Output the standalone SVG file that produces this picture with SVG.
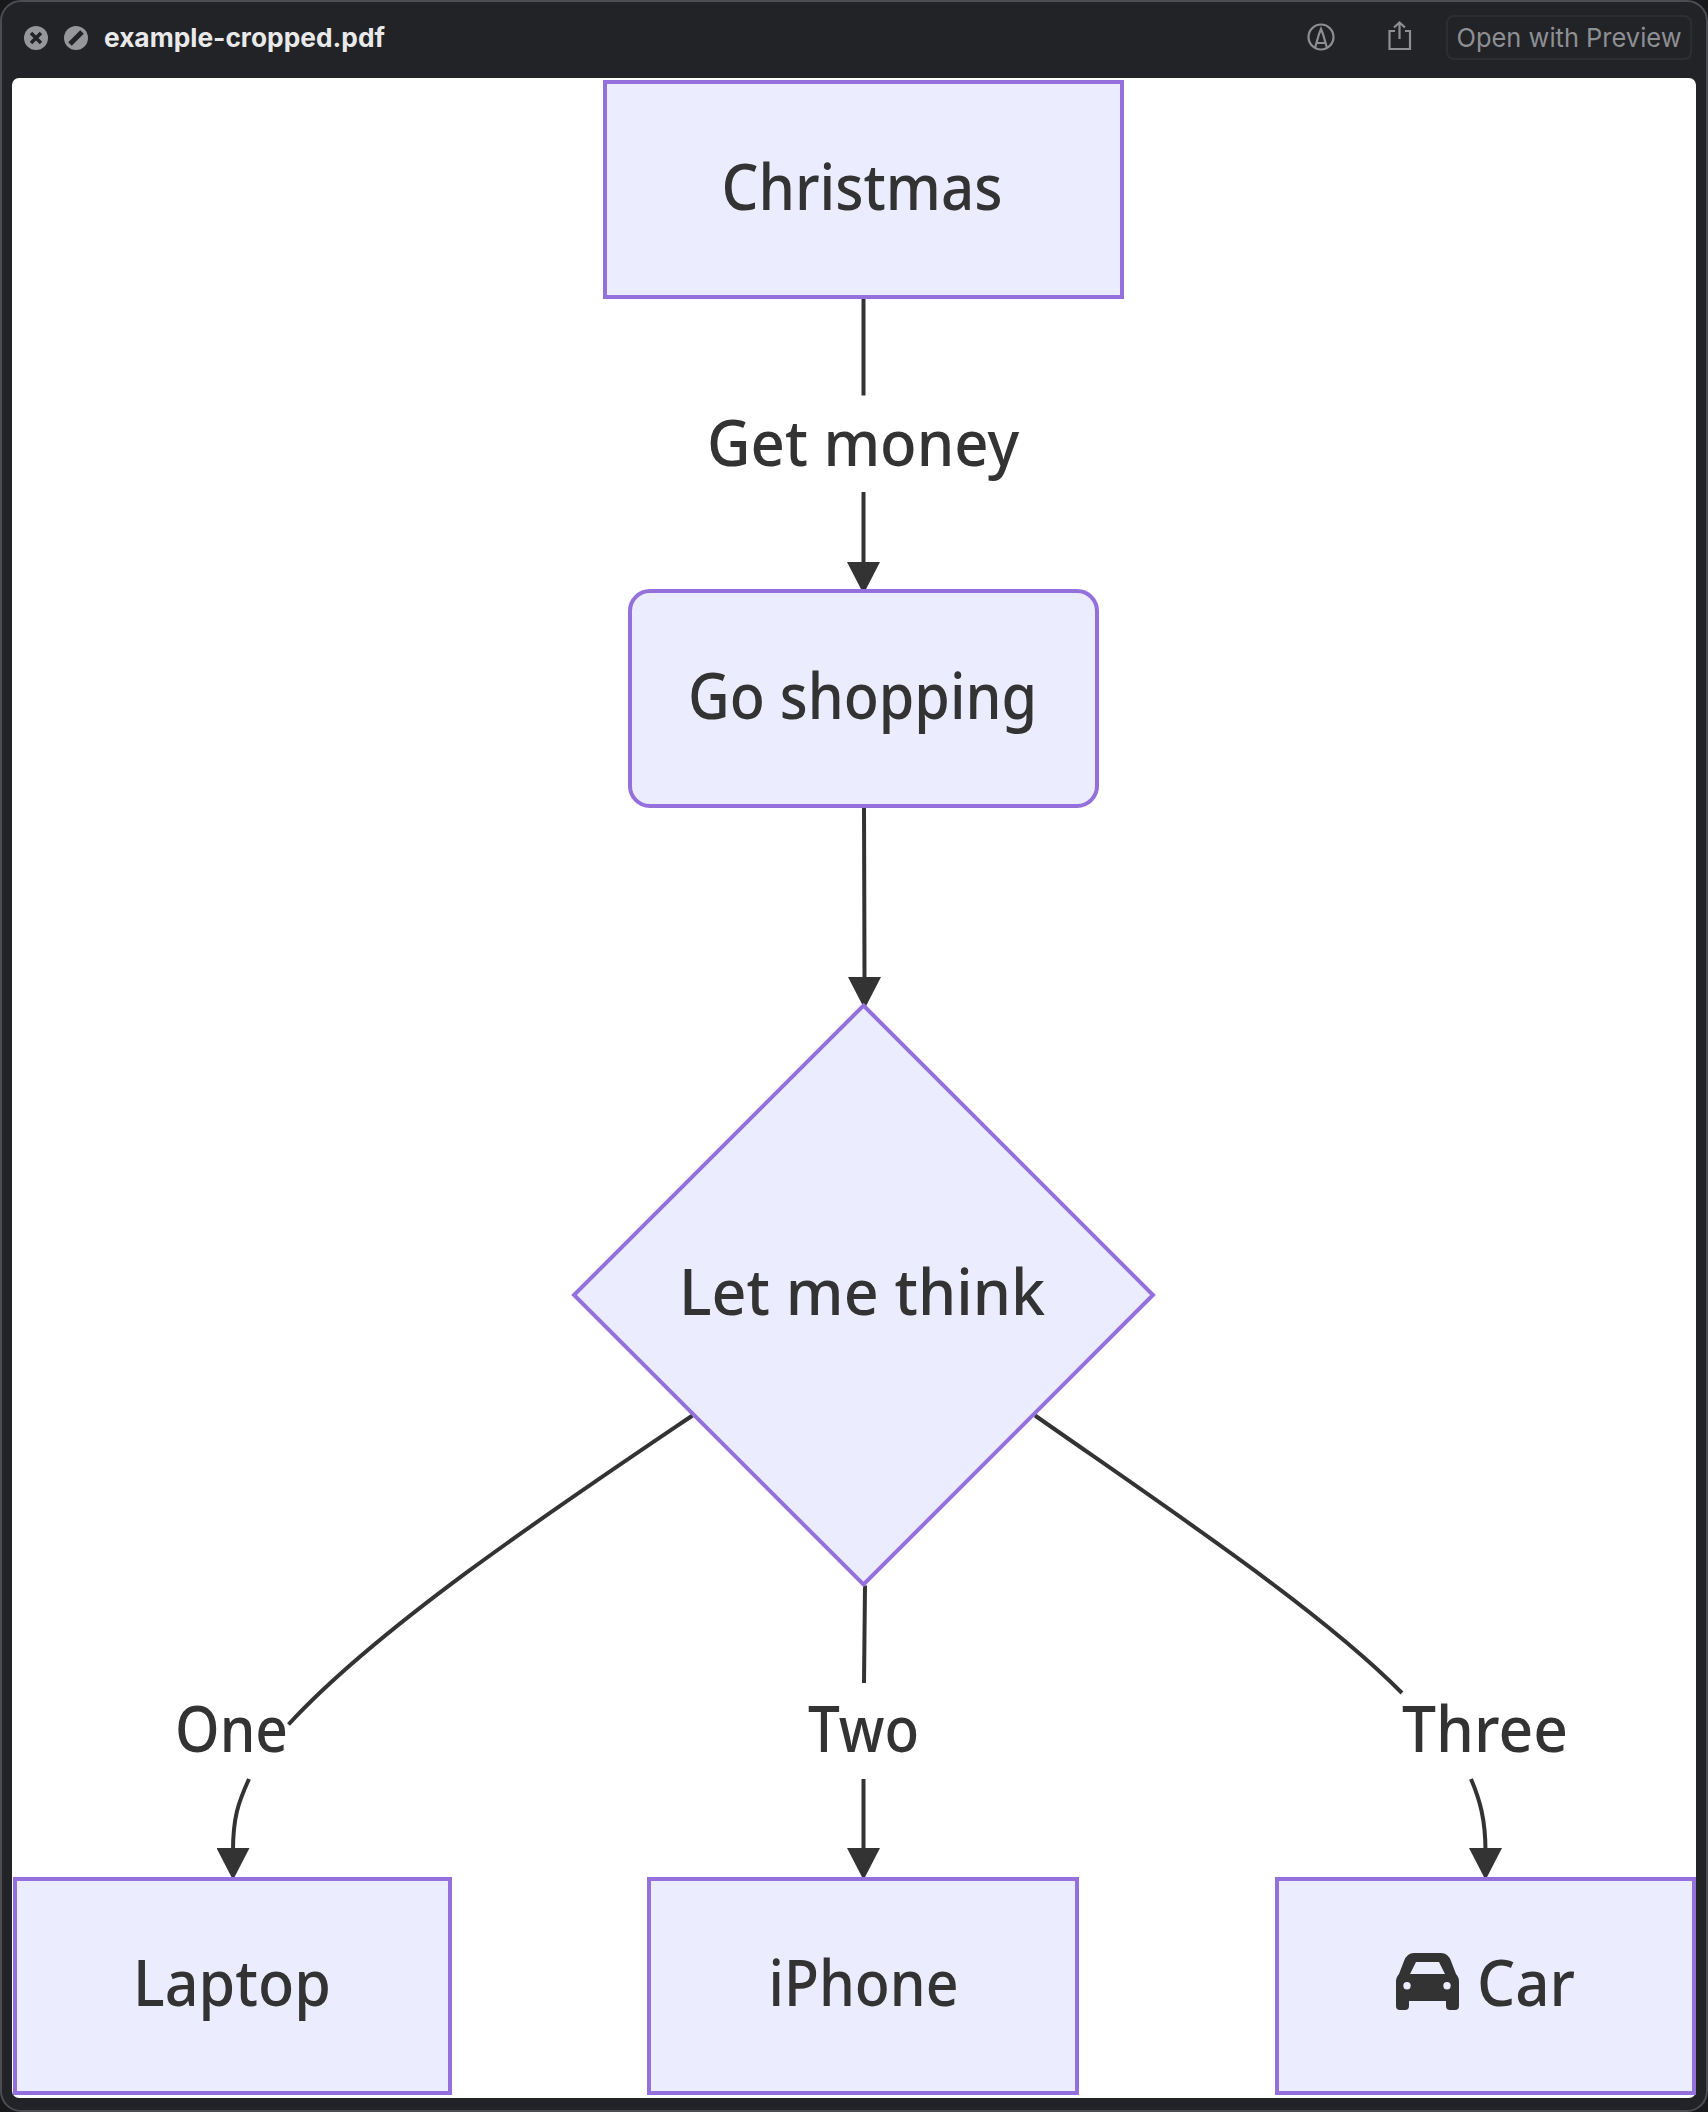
<svg xmlns="http://www.w3.org/2000/svg" width="1708" height="2112" viewBox="0 0 1708 2112">
<style>
.node{fill:#ECECFF;stroke:#9370DB;stroke-width:4}
.lbl{font-family:"Noto Sans","Open Sans",sans-serif;font-size:64px;font-weight:500;fill:#333333}
.edge{fill:none;stroke:#333333;stroke-width:4}
.ui{font-family:Inter,"Liberation Sans",sans-serif;font-size:26px}
.ic{fill:none;stroke:#8e8f93;stroke-width:2.2}
</style>
<defs>
<marker id="arrow" markerUnits="userSpaceOnUse" markerWidth="32" markerHeight="33" viewBox="0 0 32 33" refX="3" refY="16.500" orient="auto"><path d="M0 0L32 16.500L0 33Z" fill="#333333"/></marker>
</defs>
<rect width="1708" height="2112" fill="#18191b"/>
<g id="window">
<rect x="1" y="1" width="1706" height="2110" rx="20" fill="#212327" stroke="#4b4d52" stroke-width="2"/>
<rect x="12" y="78" width="1684" height="2020" rx="7" fill="#ffffff"/>
</g>
<g id="titlebar">
<circle cx="36" cy="38" r="12" fill="#96979b"/>
<path d="M31 33L41 43M41 33L31 43" stroke="#212327" stroke-width="3.5"/>
<circle cx="76" cy="38" r="12" fill="#96979b"/>
<path d="M70 44L82 32" stroke="#212327" stroke-width="5"/>
<text class="ui" x="104" y="47" font-weight="700" fill="#e9e9ea" textLength="281" lengthAdjust="spacingAndGlyphs">example-cropped.pdf</text>
<circle class="ic" cx="1321" cy="37" r="12.5"/>
<path class="ic" d="M1315 48L1319 34L1321 29L1323 34L1327 48M1316 43H1326"/>
<path class="ic" d="M1395 31H1389.500V49H1410V31H1405M1399.500 39V23M1394 27.500L1399.500 22.500L1405 27.500"/>
<rect x="1447" y="16" width="244" height="43" rx="7" fill="none" stroke="#2c2e32" stroke-width="2"/>
<text class="ui" x="1456.500" y="46.500" fill="#8e8f93" textLength="225" lengthAdjust="spacingAndGlyphs">Open with Preview</text>
</g>
<g id="connectors">
<path class="edge" d="M863.500 297V395.500"/>
<path class="edge" d="M863.500 492V565" marker-end="url(#arrow)"/>
<path class="edge" d="M864 806C864 880 864.500 920 864.500 980" marker-end="url(#arrow)"/>
<path class="edge" d="M692.500 1415.500C560 1505 380 1625 288.500 1724.500"/>
<path class="edge" d="M249 1779C238 1803 233 1818 233 1851" marker-end="url(#arrow)"/>
<path class="edge" d="M865 1585.500L864 1683"/>
<path class="edge" d="M863.500 1779V1851" marker-end="url(#arrow)"/>
<path class="edge" d="M1035 1415.500C1170 1510 1320 1610 1402 1693"/>
<path class="edge" d="M1471 1779C1480 1800 1485.500 1820 1485.500 1851" marker-end="url(#arrow)"/>
</g>
<g id="edge-labels">
<text class="lbl" x="707" y="466" textLength="312" lengthAdjust="spacingAndGlyphs">Get money</text>
<text class="lbl" x="175" y="1752" textLength="113" lengthAdjust="spacingAndGlyphs">One</text>
<text class="lbl" x="808" y="1752" textLength="111" lengthAdjust="spacingAndGlyphs">Two</text>
<text class="lbl" x="1402" y="1752" textLength="166" lengthAdjust="spacingAndGlyphs">Three</text>
</g>
<g id="node-christmas">
<rect class="node" x="605" y="82" width="517" height="215"/>
<text class="lbl" x="721.500" y="210" textLength="281" lengthAdjust="spacingAndGlyphs">Christmas</text>
</g>
<g id="node-shopping">
<rect class="node" x="630" y="591" width="467" height="215" rx="20"/>
<text class="lbl" x="688" y="718.500" textLength="349" lengthAdjust="spacingAndGlyphs">Go shopping</text>
</g>
<g id="node-think">
<polygon class="node" points="863.500,1005.500 1153,1295 863.500,1584.500 574,1295"/>
<text class="lbl" x="679" y="1315" textLength="366" lengthAdjust="spacingAndGlyphs">Let me think</text>
</g>
<g id="node-laptop">
<rect class="node" x="15" y="1879" width="435" height="214"/>
<text class="lbl" x="133" y="2006" textLength="198" lengthAdjust="spacingAndGlyphs">Laptop</text>
</g>
<g id="node-iphone">
<rect class="node" x="649" y="1879" width="428" height="214"/>
<text class="lbl" x="768.500" y="2006" textLength="190" lengthAdjust="spacingAndGlyphs">iPhone</text>
</g>
<g id="node-car">
<rect class="node" x="1277" y="1879" width="417" height="214"/>
<path fill="#333333" fill-rule="evenodd" d="M1414 1953H1441Q1448 1953 1451 1961L1456 1974Q1459 1977 1459 1982V2006Q1459 2010 1455 2010H1450Q1446 2010 1446 2006V2001H1409V2006Q1409 2010 1405 2010H1400Q1396 2010 1396 2006V1982Q1396 1977 1399 1974L1404 1961Q1407 1953 1414 1953ZM1416 1962L1410 1974H1445L1439 1962ZM1407 1982A3.700 3.700 0 1 0 1407 1989.400A3.700 3.700 0 1 0 1407 1982ZM1447 1982A3.700 3.700 0 1 0 1447 1989.400A3.700 3.700 0 1 0 1447 1982Z"/>
<text class="lbl" x="1477" y="2006" textLength="98" lengthAdjust="spacingAndGlyphs">Car</text>
</g>
</svg>
